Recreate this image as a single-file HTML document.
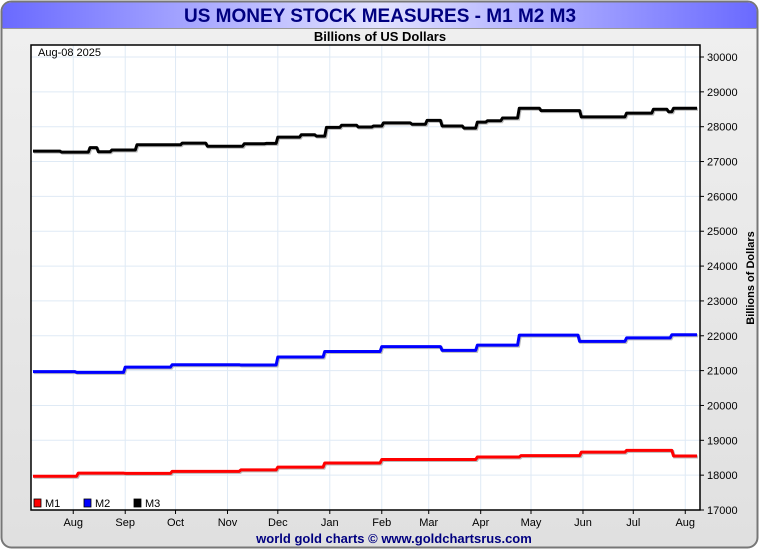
<!DOCTYPE html>
<html><head><meta charset="utf-8"><style>
body{margin:0;width:760px;height:550px;overflow:hidden;background:#fff;font-family:"Liberation Sans",sans-serif}
</style></head><body>
<svg width="760" height="550" xmlns="http://www.w3.org/2000/svg" id="chart">
<defs>
<linearGradient id="tg" x1="0" x2="1" y1="0" y2="0">
<stop offset="0" stop-color="#6a6aff"/><stop offset="0.5" stop-color="#e2e2ff"/><stop offset="1" stop-color="#6a6aff"/>
</linearGradient>
<linearGradient id="bg" x1="0" x2="0" y1="0" y2="1">
<stop offset="0" stop-color="#f0f0f0"/><stop offset="1" stop-color="#e0e0e0"/>
</linearGradient>
</defs>
<rect x="1.5" y="1.5" width="756" height="546" rx="10" fill="url(#bg)" stroke="#777" stroke-width="2"/>
<path d="M2.5,28 V12 Q2.5,2.5 12,2.5 H747 Q756.5,2.5 756.5,12 V28 Z" fill="url(#tg)"/>
<line x1="2" y1="28.5" x2="757" y2="28.5" stroke="#999"/>
<text x="380" y="22" text-anchor="middle" font-size="19" font-weight="bold" fill="#000080">US MONEY STOCK MEASURES - M1 M2 M3</text>
<text x="380" y="41" text-anchor="middle" font-size="13" font-weight="bold" fill="#000">Billions of US Dollars</text>
<rect x="31" y="45" width="669" height="465" fill="#fff"/>
<g id="grid"></g>
<g id="series"></g>
<rect x="31" y="45" width="669" height="465" fill="none" stroke="#000" stroke-width="1.5"/>
<text x="38" y="56" font-size="11" fill="#000">Aug-08  2025</text>
<g id="yaxis"></g>
<g id="xaxis"></g>
<text transform="translate(754,278) rotate(-90)" text-anchor="middle" font-size="11" font-weight="bold">Billions of Dollars</text>
<g>
<rect x="34" y="499" width="7" height="8" fill="#f00" stroke="#000" stroke-width="0.8"/>
<text x="45" y="507" font-size="11">M1</text>
<rect x="84" y="499" width="7" height="8" fill="#00f" stroke="#000" stroke-width="0.8"/>
<text x="95" y="507" font-size="11">M2</text>
<rect x="134" y="499" width="7" height="8" fill="#000" stroke="#000" stroke-width="0.8"/>
<text x="145" y="507" font-size="11">M3</text>
</g>
<text x="394" y="543" text-anchor="middle" font-size="13" font-weight="bold" fill="#000080">world gold charts © www.goldchartsrus.com</text>
</svg>
<script>
// day offsets from 2024-07-08
const m3Days=[0,16,33,38,46,61,88,103,125,138,145,159,168,174,183,193,202,208,225,234,243,256,264,270,279,289,302,326,353,369,378,381];
const m3Vals=[27300,27270,27400,27280,27330,27480,27530,27440,27510,27520,27700,27770,27730,27980,28040,27990,28020,28110,28070,28180,28020,27960,28130,28170,28250,28530,28460,28280,28390,28500,28430,28530];
const m2Days=[0,25,54,82,123,145,173,207,243,264,289,325,353,380];
const m2Vals=[20970,20950,21100,21170,21160,21390,21550,21690,21580,21730,22020,21840,21940,22030];
const m1Days=[0,26,54,82,123,145,173,207,264,290,326,353,381];
const m1Vals=[17970,18060,18050,18110,18150,18230,18350,18450,18520,18560,18660,18710,18550];
const endDay=396;
const yTicks=[17000,18000,19000,20000,21000,22000,23000,24000,25000,26000,27000,28000,29000,30000];
const monthLabels=["Aug","Sep","Oct","Nov","Dec","Jan","Feb","Mar","Apr","May","Jun","Jul","Aug"];
const monthDays=[24,55,85,116,146,177,208,236,267,297,328,358,389];

const NS="http://www.w3.org/2000/svg";
const X=d=>33+d*(664/endDay);
const Y=v=>510-(v-17000)*(453/13000);
function mk(tag,attrs,parent){const e=document.createElementNS(NS,tag);for(const k in attrs)e.setAttribute(k,attrs[k]);parent.appendChild(e);return e;}
const grid=document.getElementById('grid'),ya=document.getElementById('yaxis'),xa=document.getElementById('xaxis'),ser=document.getElementById('series');
yTicks.forEach(v=>{
  const g=mk('line',{x1:31,x2:700,y1:Y(v),y2:Y(v),stroke:'#dfeaf5','stroke-width':1},grid);
  
  
  const t=mk('line',{x1:700,x2:704,y1:Y(v),y2:Y(v),stroke:'#000'},ya);
  
  
  const l=mk('text',{x:707,y:Y(v)+4,'font-size':11},ya);
  l.textContent=v;
  
  
});
monthDays.forEach((d,i)=>{
  const g=mk('line',{x1:X(d),x2:X(d),y1:45,y2:510,stroke:'#dfeaf5','stroke-width':1},grid);
  
  
  const t=mk('line',{x1:X(d),x2:X(d),y1:510,y2:514,stroke:'#000'},xa);
  
  
  const l=mk('text',{x:X(d),y:526,'font-size':11,'text-anchor':'middle'},xa);
  l.textContent=monthLabels[i];
  
  
});
function stepPath(days,vals){
  let p='M'+X(days[0])+','+Y(vals[0]);
  for(let i=1;i<days.length;i++){p+=' L'+X(days[i])+','+Y(vals[i-1])+' L'+X(days[i]+1)+','+Y(vals[i]);}
  p+=' L'+X(endDay)+','+Y(vals[vals.length-1]);
  return p;
}
[[m1Days,m1Vals,'#f00','m1-line'],[m2Days,m2Vals,'#00f','m2-line'],[m3Days,m3Vals,'#000','m3-line']].forEach(s=>{
  const sh=mk('path',{d:stepPath(s[0],s[1]),fill:'none',stroke:'#bbb','stroke-width':3,transform:'translate(1,1)'},ser);
  
  
  const p=mk('path',{d:stepPath(s[0],s[1]),fill:'none',stroke:s[2],'stroke-width':3,'stroke-linejoin':'round'},ser);
  
  
});
</script>
</body></html>
